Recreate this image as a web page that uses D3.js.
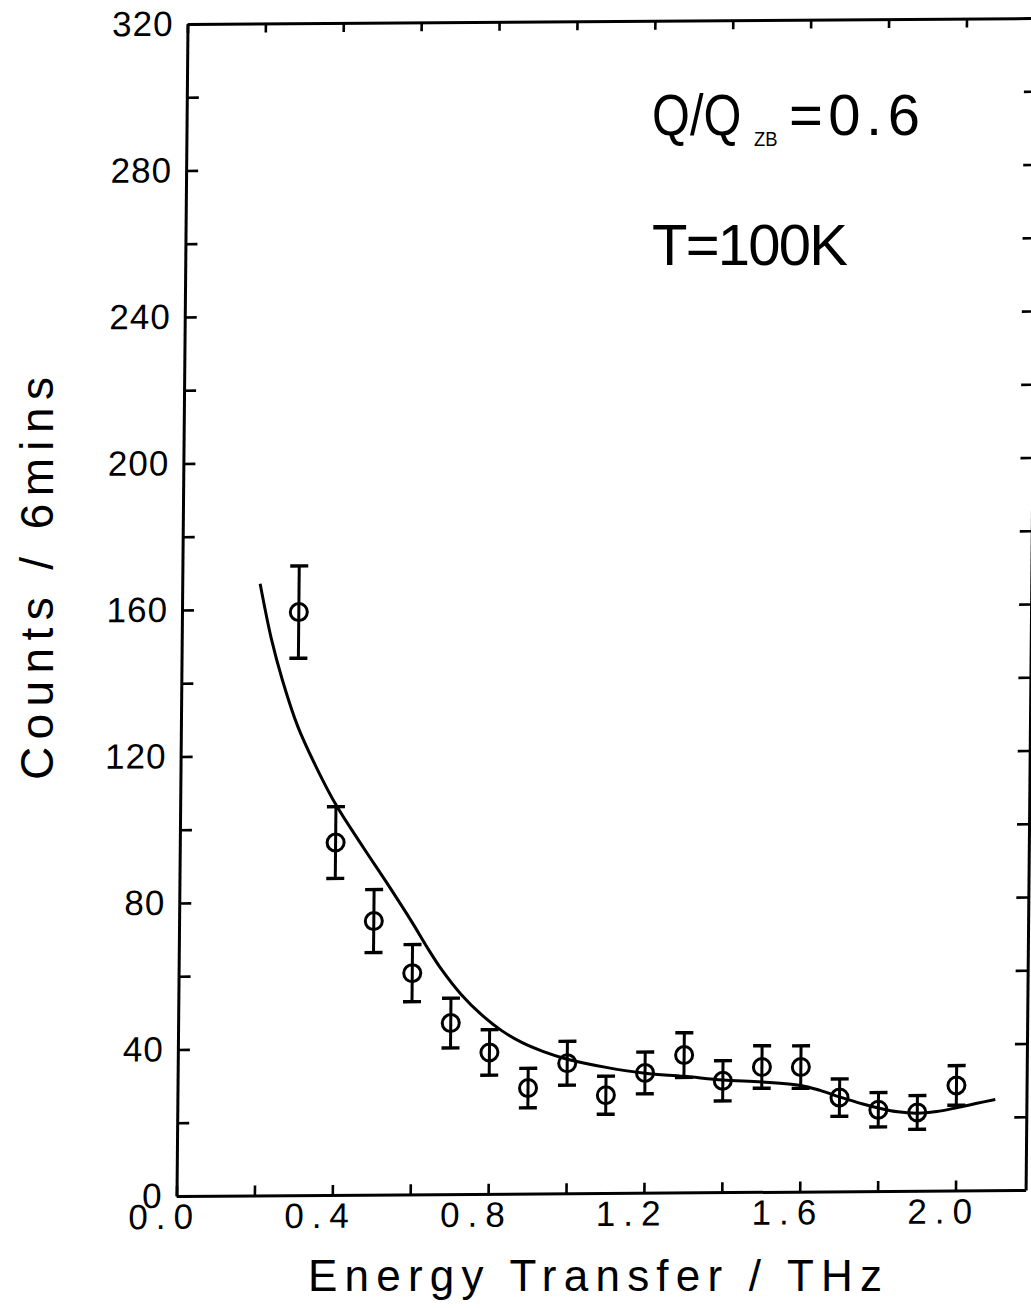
<!DOCTYPE html>
<html>
<head>
<meta charset="utf-8">
<script src="https://cdn.jsdelivr.net/npm/d3@7"></script>
<style>
	html, body { margin: 0; padding: 0; background: #fff; }
	svg { display: block; }
	text { font-family: "Liberation Sans", Arial, sans-serif; fill: #000; }
</style>
</head>
<body>
<div id="chart"></div>
<script>
/* measured points: energy transfer (THz), counts per 6 mins, error bar half-height */
const energy = [0.3, 0.4, 0.5, 0.6, 0.7, 0.8, 0.9, 1.0, 1.1, 1.2, 1.3, 1.4, 1.5, 1.6, 1.7, 1.8, 1.9, 2.0];
const counts = [159.2, 96.2, 74.7, 60.4, 46.7, 38.6, 28.8, 35.5, 26.7, 32.7, 37.5, 30.4, 34.1, 34.0, 25.6, 22.2, 21.4, 28.7];
const countErr = [12.6, 9.8, 8.6, 7.8, 6.8, 6.2, 5.4, 6.0, 5.2, 5.7, 6.1, 5.5, 5.8, 5.8, 5.1, 4.7, 4.6, 5.4];

/* fitted curve */
const fitEnergy = [0.2, 0.23, 0.26, 0.3, 0.35, 0.4, 0.47, 0.53, 0.6, 0.637, 0.674, 0.726, 0.78, 0.83, 0.884, 0.937,
	1.0, 1.1, 1.2, 1.3, 1.4, 1.5, 1.6, 1.65, 1.7, 1.76, 1.8, 1.85, 1.9, 1.95, 2.0, 2.05, 2.1];
const fitCounts = [167, 152, 140.5, 128, 116.5, 106.5, 95, 85.5, 74, 67.5, 61.5, 54.5, 48.8, 44.6, 41.2, 38.8,
	36.6, 34.3, 32.6, 31.7, 30.6, 30.0, 29.0, 27.6, 25.8, 23.8, 22.7, 21.6, 21.2, 21.6, 22.6, 23.7, 24.8];

/* axes */
const xTicks = [0, 0.2, 0.4, 0.6, 0.8, 1.0, 1.2, 1.4, 1.6, 1.8, 2.0];
const xLabels = [0, 0.4, 0.8, 1.2, 1.6, 2.0];
const yTicks = [0, 20, 40, 60, 80, 100, 120, 140, 160, 180, 200, 220, 240, 260, 280, 300, 320];
const yLabels = [0, 40, 80, 120, 160, 200, 240, 280, 320];

const width = 1031, height = 1308;
const plotLeft = 176.5, plotRight = 1025.6, plotBottom = 1196, plotTop = 24;

/* the scanned page is slightly sheared, reproduce it */
const shearX = -0.00939, shearY = -0.00703;

const svg = d3.select("#chart")
	.append("svg")
	.attr("width", width)
	.attr("height", height);

const x = d3.scaleLinear().domain([0, 2.18]).range([plotLeft, plotRight]);
const y = d3.scaleLinear().domain([0, 320]).range([plotBottom, plotTop]);

const plot = svg.append("g")
	.attr("transform", `matrix(1,${shearY},${shearX},1,${-shearX * plotBottom},${-shearY * plotLeft})`);

function styleAxis(g) {
	g.select(".domain").attr("stroke", "#000").attr("stroke-width", 3);
	g.selectAll(".tick line").attr("stroke", "#000").attr("stroke-width", 2.6);
	g.selectAll(".tick text")
		.attr("fill", "#000")
		.style("font-family", "'Liberation Sans', Arial, sans-serif")
		.style("font-size", "35px");
}

/* left */
plot.append("g")
	.attr("transform", `translate(${plotLeft},0)`)
	.call(d3.axisLeft(y).tickValues(yTicks).tickSizeInner(-12).tickSizeOuter(0).tickPadding(14)
		.tickFormat((d) => yLabels.includes(d) ? d : ""))
	.call(styleAxis)
	.selectAll(".tick text").style("letter-spacing", "1px");

/* bottom */
plot.append("g")
	.attr("transform", `translate(0,${plotBottom})`)
	.call(d3.axisBottom(x).tickValues(xTicks).tickSizeInner(-10).tickSizeOuter(0).tickPadding(8)
		.tickFormat((d) => xLabels.includes(d) ? d.toFixed(1) : ""))
	.call(styleAxis)
	.selectAll(".tick text")
		.attr("dx", -12)
		.style("letter-spacing", "8px");

/* top */
plot.append("g")
	.attr("transform", `translate(0,${plotTop})`)
	.call(d3.axisTop(x).tickValues(xTicks).tickSizeInner(-9).tickSizeOuter(0).tickFormat(""))
	.call(styleAxis);

/* right */
plot.append("g")
	.attr("transform", `translate(${plotRight},0)`)
	.call(d3.axisRight(y).tickValues(yTicks).tickSizeInner(-12).tickSizeOuter(0).tickFormat(""))
	.call(styleAxis);

/* fit */
const line = d3.line()
	.x((d) => x(d[0]))
	.y((d) => y(d[1]))
	.curve(d3.curveCatmullRom.alpha(0.5));

plot.append("path")
	.datum(fitEnergy.map((e, i) => [e, fitCounts[i]]))
	.attr("d", line)
	.attr("fill", "none")
	.attr("stroke", "#000")
	.attr("stroke-width", 3);

/* data with error bars */
const points = energy.map((e, i) => ({ e: e, c: counts[i], err: countErr[i] }));
const pts = plot.append("g").attr("class", "points")
	.selectAll("g")
	.data(points)
	.enter()
	.append("g")
		.attr("stroke", "#000")
		.attr("fill", "none");

pts.append("line")
	.attr("x1", (d) => x(d.e)).attr("x2", (d) => x(d.e))
	.attr("y1", (d) => y(d.c + d.err)).attr("y2", (d) => y(d.c - d.err))
	.attr("stroke-width", 3);

pts.append("line")
	.attr("x1", (d) => x(d.e) - 9).attr("x2", (d) => x(d.e) + 9)
	.attr("y1", (d) => y(d.c + d.err)).attr("y2", (d) => y(d.c + d.err))
	.attr("stroke-width", 3.4);

pts.append("line")
	.attr("x1", (d) => x(d.e) - 9).attr("x2", (d) => x(d.e) + 9)
	.attr("y1", (d) => y(d.c - d.err)).attr("y2", (d) => y(d.c - d.err))
	.attr("stroke-width", 3.4);

pts.append("circle")
	.attr("cx", (d) => x(d.e))
	.attr("cy", (d) => y(d.c))
	.attr("r", 8.5)
	.attr("stroke-width", 3);

/* axis titles */
svg.append("text")
	.attr("x", 308).attr("y", 1291)
	.attr("textLength", 574)
	.style("font-size", "44px")
	.text("Energy Transfer / THz");

svg.append("text")
	.attr("transform", "translate(53,780) rotate(-90)")
	.attr("textLength", 403)
	.style("font-size", "46px")
	.text("Counts / 6mins");

/* annotations */
svg.append("text")
	.attr("transform", "translate(652,135) scale(0.84,1)")
	.style("font-size", "58px")
	.text("Q/Q");

svg.append("text")
	.attr("transform", "translate(754,146) scale(0.92,1)")
	.style("font-size", "20px")
	.text("ZB");

svg.append("text")
	.attr("x", 789).attr("y", 135)
	.attr("textLength", 131)
	.style("font-size", "58px")
	.text("=0.6");

svg.append("text")
	.attr("x", 652).attr("y", 265)
	.attr("textLength", 196)
	.style("font-size", "58px")
	.text("T=100K");
</script>
</body>
</html>
